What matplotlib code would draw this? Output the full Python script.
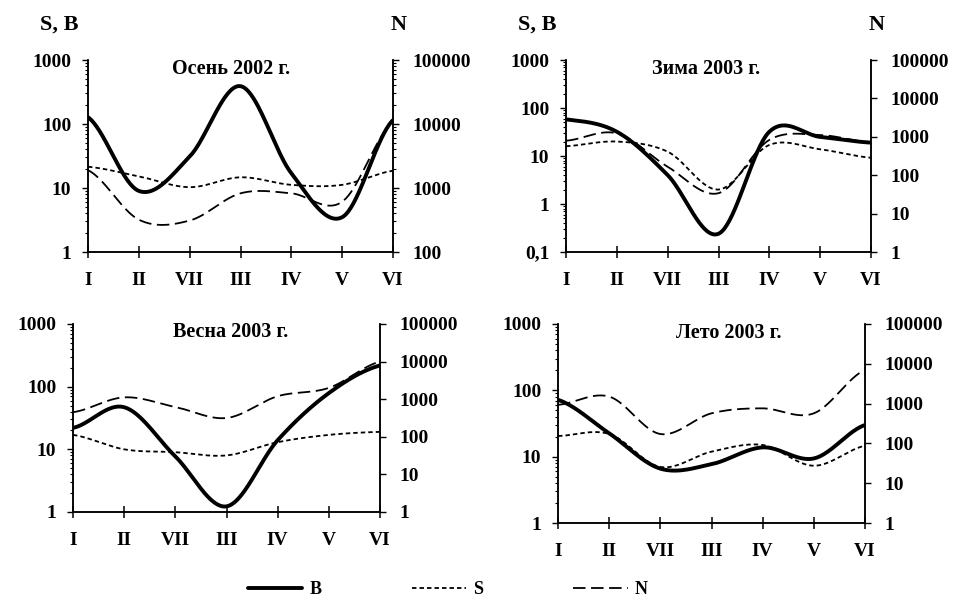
import numpy as np
import matplotlib.pyplot as plt
from matplotlib.lines import Line2D

plt.rcParams['font.family'] = ['Liberation Serif', 'DejaVu Serif']
plt.rcParams['font.weight'] = 'bold'
plt.rcParams['lines.scale_dashes'] = False

# Station order along the x axis
stations = ['I', 'II', 'VII', 'III', 'IV', 'V', 'VI']

# Осень 2002
autumn_B = [128, 9.0, 31, 390, 17, 3.5, 115]
autumn_S = [21.5, 15.2, 10.3, 14.7, 11.2, 11.2, 18.6]
autumn_N = [1900, 320, 310, 826, 826, 610, 10900]

# Зима 2003
winter_B = [58, 32, 4.0, 0.24, 32, 25, 19]
winter_S = [16, 20, 12.3, 2.0, 17, 13.8, 9.2]
winter_N = [790, 1230, 166, 34, 830, 1110, 700]

# Весна 2003
spring_B = [22, 47, 7.7, 1.23, 14, 79, 218]
spring_S = [17, 10, 9, 8, 13, 17, 19]
spring_N = [450, 1120, 620, 316, 1200, 2000, 10000]

# Лето 2003
summer_B = [72, 22.5, 6.6, 7.7, 13.8, 9.4, 30]
summer_S = [20.5, 22, 7, 11.9, 15, 7.3, 14.6]
summer_N = [930, 1500, 172, 570, 760, 570, 7000]

titles = ['Осень 2002 г.', 'Зима 2003 г.', 'Весна 2003 г.', 'Лето 2003 г.']


def smooth(vals, n=40):
    # Catmull-Rom curve in log space, like a spreadsheet "smoothed line"
    y = np.log10(vals)
    yp = np.concatenate([[y[0]], y, [y[-1]]])
    xs, ys = [], []
    t = np.linspace(0, 1, n, endpoint=False)
    for i in range(len(y) - 1):
        p0, p1, p2, p3 = yp[i], yp[i + 1], yp[i + 2], yp[i + 3]
        m1 = (p2 - p0) / 2
        m2 = (p3 - p1) / 2
        h00 = 2 * t**3 - 3 * t**2 + 1
        h10 = t**3 - 2 * t**2 + t
        h01 = -2 * t**3 + 3 * t**2
        h11 = t**3 - t**2
        xs.append(i + t)
        ys.append(h00 * p1 + h10 * m1 + h01 * p2 + h11 * m2)
    xs.append([len(y) - 1])
    ys.append([y[-1]])
    return np.concatenate(xs), 10 ** np.concatenate(ys)


def fmt(v):
    return '0,1' if v < 1 else str(int(v))


W, H = 957, 601
fig = plt.figure(figsize=(W / 100, H / 100), dpi=100)

B_style = dict(color='black', lw=2.8, solid_capstyle='round')
S_style = dict(color='black', lw=1.3, dashes=(3.2, 2.2))
N_style = dict(color='black', lw=1.3, dashes=(9, 4))

panels = [
    (autumn_B, autumn_S, autumn_N, (88, 60, 393, 252), (1, 1000), (100, 100000), 0.47),
    (winter_B, winter_S, winter_N, (566, 60, 871, 252), (0.1, 1000), (1, 100000), 0.46),
    (spring_B, spring_S, spring_N, (73, 324, 380, 512), (1, 1000), (1, 100000), 0.515),
    (summer_B, summer_S, summer_N, (558, 324, 865, 523), (1, 1000), (1, 100000), 0.555),
]

for k, (B, S, N, (x0, y0, x1, y1), llim, rlim, tx) in enumerate(panels):
    ax = fig.add_axes([x0 / W, 1 - y1 / H, (x1 - x0) / W, (y1 - y0) / H])
    ax2 = ax.twinx()

    xs, ys = smooth(S)
    ax.plot(xs, ys, **S_style)
    xs, ys = smooth(B)
    ax.plot(xs, ys, **B_style, zorder=3)
    xs, ys = smooth(N)
    ax2.plot(xs, ys, **N_style)

    ax.set_xlim(0, 6)
    for a, lim, pad in ((ax, llim, 8), (ax2, rlim, 10)):
        a.set_yscale('log')
        a.set_ylim(*lim)
        dec = [10.0 ** e for e in range(int(np.log10(lim[0])), int(np.log10(lim[1])) + 1)]
        a.set_yticks(dec, [fmt(v) for v in dec])
        a.yaxis.set_minor_locator(plt.LogLocator(base=10, subs=np.arange(2, 10)))
        a.yaxis.set_minor_formatter(plt.NullFormatter())
        a.spines['top'].set_visible(False)
        a.tick_params(axis='y', which='major', direction='out', length=4, width=1,
                      pad=pad, labelsize=14)
        a.tick_params(axis='y', which='minor', direction='out', length=2.5, width=0.8)
        for sp in a.spines.values():
            sp.set_linewidth(1.1)

    ax.set_xticks(range(len(stations)), stations)
    ax.tick_params(axis='x', direction='inout', length=9, width=1.1, pad=10,
                   labelsize=14, top=False)
    ax.text(tx, 0.955, titles[k], transform=ax.transAxes, ha='center', va='center',
            fontsize=14.5, fontweight='bold')

    if k < 2:
        fig.text((x0 - 48) / W, 1 - 25 / H, 'S, B', fontsize=16, fontweight='bold',
                 ha='left', va='center')
        fig.text((x1 + 6) / W, 1 - 25 / H, 'N', fontsize=16, fontweight='bold',
                 ha='center', va='center')

handles = [Line2D([], [], **B_style), Line2D([], [], **S_style), Line2D([], [], **N_style)]
fig.legend(handles, ['B', 'S', 'N'], loc='center', bbox_to_anchor=(448 / W, 1 - 590 / H),
           ncol=3, frameon=False, handlelength=3.0, handletextpad=0.4,
           columnspacing=5.0, prop={'size': 13, 'weight': 'bold'})

fig.savefig('out.png', dpi=100)
